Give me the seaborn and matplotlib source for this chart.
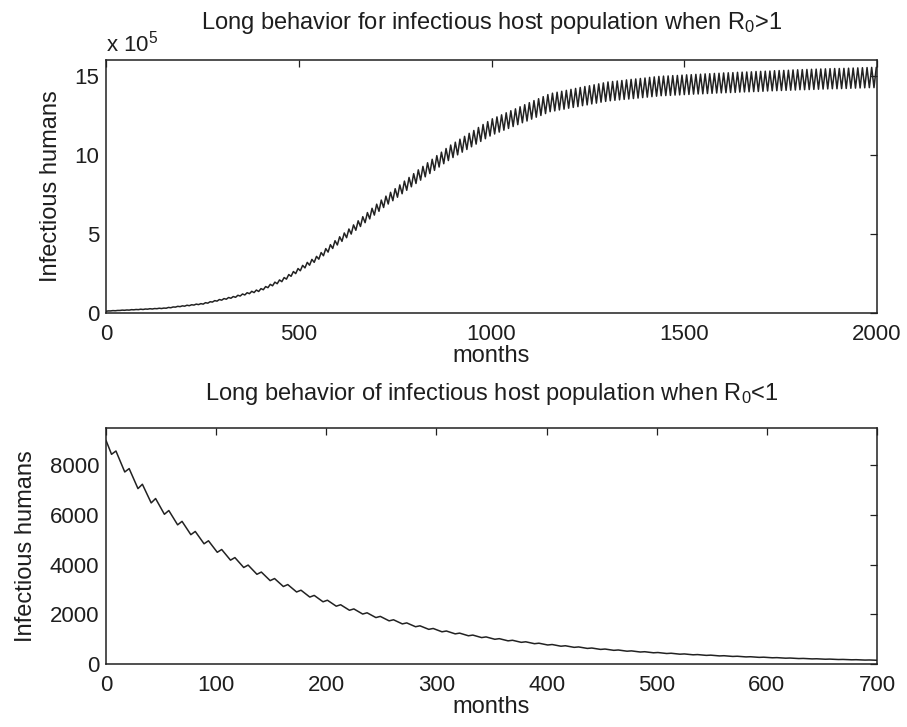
import matplotlib
matplotlib.use("Agg")
import matplotlib.pyplot as plt
import seaborn as sns
import pandas as pd

# ---------------- data ----------------
# Top panel: infectious humans (units of 1e5), sampled every 6 months
# (alternating seasonal trough / peak), months 0..1998
top_months = list(range(0, 1999, 6))
top_values = [
    0.11, 0.13, 0.13, 0.15, 0.14, 0.16, 0.16, 0.18, 0.17, 0.19, 0.18, 0.21, 0.20, 0.22, 0.21, 0.24,
    0.22, 0.25, 0.24, 0.27, 0.25, 0.28, 0.27, 0.30, 0.28, 0.31, 0.30, 0.35, 0.33, 0.38, 0.37, 0.42,
    0.40, 0.45, 0.43, 0.49, 0.46, 0.52, 0.50, 0.56, 0.53, 0.59, 0.56, 0.65, 0.62, 0.71, 0.69, 0.78,
    0.75, 0.85, 0.81, 0.91, 0.87, 0.98, 0.93, 1.04, 0.99, 1.12, 1.07, 1.20, 1.14, 1.28, 1.22, 1.37,
    1.29, 1.45, 1.36, 1.54, 1.47, 1.67, 1.60, 1.81, 1.72, 1.95, 1.85, 2.09, 1.98, 2.24, 2.14, 2.43,
    2.32, 2.62, 2.49, 2.81, 2.67, 3.01, 2.85, 3.20, 3.02, 3.39, 3.20, 3.58, 3.40, 3.82, 3.62, 4.07,
    3.85, 4.32, 4.08, 4.57, 4.30, 4.82, 4.53, 5.06, 4.76, 5.31, 4.99, 5.57, 5.23, 5.83, 5.47, 6.09,
    5.71, 6.35, 5.95, 6.62, 6.19, 6.88, 6.43, 7.14, 6.67, 7.39, 6.89, 7.63, 7.10, 7.86, 7.32, 8.10,
    7.54, 8.34, 7.76, 8.57, 7.98, 8.81, 8.19, 9.05, 8.40, 9.27, 8.61, 9.50, 8.82, 9.72, 9.02, 9.95,
    9.23, 10.17, 9.44, 10.40, 9.64, 10.62, 9.83, 10.80, 10.00, 10.99, 10.17, 11.17, 10.34, 11.36,
    10.51, 11.54, 10.68, 11.73, 10.85, 11.92, 11.02, 12.10, 11.19, 12.28, 11.32, 12.40, 11.44, 12.53,
    11.56, 12.66, 11.67, 12.79, 11.79, 12.91, 11.91, 13.04, 12.03, 13.17, 12.14, 13.30, 12.26, 13.43,
    12.38, 13.55, 12.49, 13.68, 12.61, 13.81, 12.73, 13.90, 12.78, 13.96, 12.84, 14.02, 12.89, 14.08,
    12.95, 14.14, 13.00, 14.20, 13.05, 14.26, 13.11, 14.32, 13.16, 14.37, 13.22, 14.43, 13.27, 14.49,
    13.33, 14.55, 13.38, 14.61, 13.42, 14.64, 13.45, 14.67, 13.48, 14.70, 13.51, 14.74, 13.53, 14.77,
    13.56, 14.80, 13.59, 14.83, 13.62, 14.86, 13.65, 14.90, 13.68, 14.93, 13.71, 14.96, 13.74, 14.98,
    13.75, 14.99, 13.76, 15.01, 13.78, 15.02, 13.79, 15.04, 13.81, 15.06, 13.82, 15.07, 13.84, 15.09,
    13.85, 15.10, 13.86, 15.12, 13.88, 15.13, 13.89, 15.15, 13.91, 15.16, 13.92, 15.18, 13.93, 15.19,
    13.94, 15.20, 13.95, 15.22, 13.97, 15.23, 13.98, 15.24, 13.99, 15.25, 14.00, 15.27, 14.01, 15.28,
    14.02, 15.29, 14.04, 15.30, 14.05, 15.32, 14.06, 15.33, 14.07, 15.34, 14.08, 15.35, 14.09, 15.37,
    14.10, 15.38, 14.12, 15.39, 14.12, 15.40, 14.13, 15.41, 14.14, 15.42, 14.15, 15.43, 14.16, 15.44,
    14.17, 15.45, 14.18, 15.46, 14.18, 15.46, 14.19, 15.47, 14.20, 15.48, 14.21, 15.49, 14.22, 15.50,
    14.23, 15.51, 14.24, 15.52, 14.25, 15.53, 14.25, 15.54,
]

# Bottom panel: infectious humans, seasonal troughs and peaks
bottom_start = (0, 9000)
bottom_end = (700, 149)
trough_months = list(range(5, 700, 12))
trough_values = [
    8440, 7729, 7060, 6484, 6026, 5601, 5205, 4838, 4496, 4179, 3884, 3610, 3355, 3118, 2898,
    2693, 2503, 2326, 2162, 2010, 1868, 1736, 1613, 1499, 1394, 1295, 1212, 1135, 1062, 994,
    931, 871, 816, 764, 715, 669, 626, 586, 549, 514, 481, 450, 421, 394, 369, 346, 324, 303,
    284, 266, 249, 233, 218, 204, 191, 179, 168, 157,
]
peak_months = list(range(9, 700, 12))
peak_values = [
    8573, 7865, 7235, 6660, 6177, 5741, 5335, 4959, 4608, 4283, 3981, 3700, 3439, 3196, 2970,
    2760, 2566, 2384, 2216, 2060, 1915, 1779, 1653, 1536, 1429, 1327, 1242, 1163, 1089, 1019,
    954, 893, 836, 783, 733, 686, 642, 601, 563, 527, 493, 461, 432, 404, 378, 355, 332, 311,
    291, 273, 255, 239, 223, 209, 196, 183, 172, 161,
]

top_xticks = [0, 500, 1000, 1500, 2000]
top_yticks = [0, 5, 10, 15]
bottom_xticks = [0, 100, 200, 300, 400, 500, 600, 700]
bottom_yticks = [0, 2000, 4000, 6000, 8000]

# ---------------- tables ----------------
df_top = pd.DataFrame({"month": top_months, "value": top_values})
b_m = [bottom_start[0]]
b_v = [bottom_start[1]]
for tm, tv, pm, pv in zip(trough_months, trough_values, peak_months, peak_values):
    b_m += [tm, pm]
    b_v += [tv, pv]
b_m.append(bottom_end[0])
b_v.append(bottom_end[1])
df_bot = pd.DataFrame({"month": b_m, "value": b_v})

# ---------------- style ----------------
sns.set_style("white")
plt.rcParams["font.family"] = ["Liberation Sans", "DejaVu Sans"]
plt.rcParams["mathtext.fontset"] = "custom"
plt.rcParams["mathtext.rm"] = "Liberation Sans"
plt.rcParams["mathtext.it"] = "Liberation Sans"
plt.rcParams["mathtext.default"] = "regular"

TXT = "#1e1e1e"
LINE = "#222222"
FS = 17
TFS = 16

fig = plt.figure(figsize=(9.07, 7.27), dpi=100)
fig.patch.set_facecolor("white")
ax1 = fig.add_axes([0.1169, 0.5695, 0.8501, 0.348])
ax2 = fig.add_axes([0.1169, 0.0867, 0.8501, 0.3246])

sns.lineplot(data=df_top, x="month", y="value", ax=ax1, color=LINE,
             linewidth=1.1, estimator=None, sort=False)
sns.lineplot(data=df_bot, x="month", y="value", ax=ax2, color=LINE,
             linewidth=1.1, estimator=None, sort=False)

ax1.set_xlim(0, 2000)
ax1.set_ylim(0, 16)
ax1.set_xticks(top_xticks)
ax1.set_yticks(top_yticks)
ax2.set_xlim(0, 700)
ax2.set_ylim(0, 9500)
ax2.set_xticks(bottom_xticks)
ax2.set_yticks(bottom_yticks)

for ax in (ax1, ax2):
    for sp in ax.spines.values():
        sp.set_visible(True)
        sp.set_color("#202020")
        sp.set_linewidth(1.1)
    ax.tick_params(direction="in", top=True, right=True, length=5, width=0.9,
                   labelsize=TFS, colors="#202020", labelcolor=TXT)
    ax.tick_params(axis="x", pad=8)
    ax.tick_params(axis="y", pad=5)
    ax.set_xlabel("months", fontsize=FS, color=TXT, labelpad=0)
    ax.set_ylabel("Infectious humans", fontsize=FS, color=TXT, labelpad=9)

ax1.set_title("Long behavior for infectious host population when R$_0$>1",
              fontsize=FS, color=TXT, pad=22)
ax2.set_title("Long behavior of infectious host population when R$_0$<1",
              fontsize=FS, color=TXT, pad=20)
ax1.text(0.0, 1.015, r"x 10$^5$", transform=ax1.transAxes, fontsize=TFS,
         color=TXT, ha="left", va="bottom")

fig.savefig("out.png", dpi=100, facecolor="white")
